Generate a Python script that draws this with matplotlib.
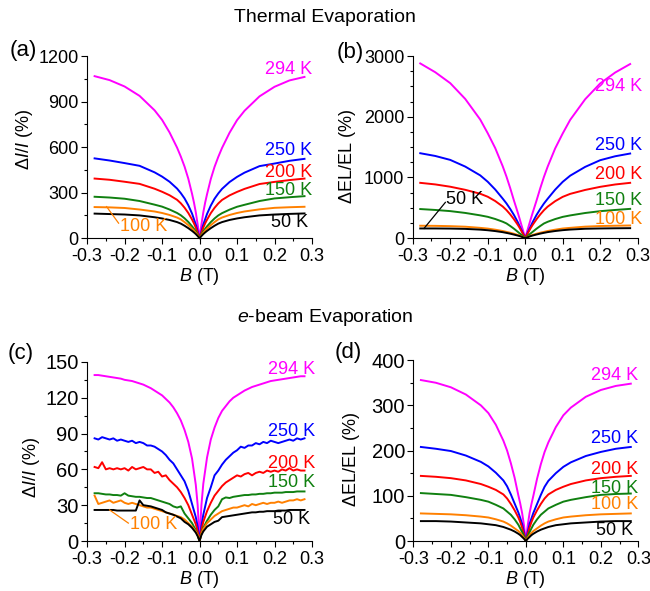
import matplotlib
matplotlib.use('Agg')
import matplotlib.pyplot as plt
from matplotlib.ticker import MultipleLocator, FuncFormatter

plt.rcParams['font.family'] = ['Liberation Sans', 'DejaVu Sans']
plt.rcParams['mathtext.fontset'] = 'custom'
plt.rcParams['mathtext.it'] = 'Liberation Sans:italic'
plt.rcParams['mathtext.rm'] = 'Liberation Sans'

temps = ['294 K', '250 K', '200 K', '150 K', '100 K', '50 K']
colors = ['#ff00ff', '#0000ff', '#ff0000', '#108010', '#ff8000', '#000000']

# field grid for the smooth sweeps (a), (b), (d)
B_smooth = [-0.28, -0.24, -0.2, -0.16, -0.12, -0.1, -0.08, -0.06, -0.05, -0.04, -0.03,
            -0.02, -0.015, -0.01, -0.005, 0.0, 0.005, 0.01, 0.015, 0.02, 0.03, 0.04,
            0.05, 0.06, 0.08, 0.1, 0.12, 0.16, 0.2, 0.24, 0.28]

# (a) thermal evaporation, dI/I
a_294 = [1068, 1042, 1000, 938, 843, 780, 697, 597, 538, 472, 392, 292, 236, 170, 90, 0,
         90, 170, 235, 290, 390, 470, 536, 595, 695, 778, 840, 935, 998, 1040, 1063]
a_250 = [526, 512, 495, 477, 434, 406, 372, 327, 297, 262, 217, 162, 126, 90, 45, 0,
         45, 90, 125, 160, 215, 260, 295, 325, 370, 404, 432, 475, 492, 510, 523]
a_200 = [393, 385, 372, 358, 326, 306, 283, 253, 230, 201, 166, 123, 98, 70, 35, 0,
         35, 70, 98, 122, 165, 200, 229, 252, 282, 305, 325, 357, 371, 383, 393]
a_150 = [273, 268, 260, 245, 221, 208, 189, 166, 151, 131, 107, 78, 62, 45, 23, 0,
         23, 45, 62, 78, 106, 130, 150, 165, 188, 207, 220, 245, 262, 270, 277]
a_100 = [205, 203, 199, 189, 176, 166, 153, 136, 124, 106, 86, 63, 50, 35, 18, 0,
         18, 35, 50, 63, 86, 106, 124, 136, 153, 166, 176, 190, 200, 204, 207]
a_50 = [162, 159, 156, 150, 138, 130, 120, 106, 96, 82, 66, 48, 38, 27, 14, 0,
        14, 27, 38, 48, 66, 82, 96, 106, 120, 130, 138, 150, 156, 160, 163]

# (b) thermal evaporation, dEL/EL
b_294 = [2880, 2735, 2555, 2295, 1955, 1730, 1485, 1185, 1015, 825, 620, 425, 322, 216, 110, 0,
         110, 215, 320, 420, 615, 820, 1010, 1180, 1480, 1725, 1950, 2290, 2550, 2730, 2870]
b_250 = [1400, 1355, 1290, 1180, 1035, 930, 802, 652, 573, 482, 382, 266, 200, 135, 70, 0,
         70, 135, 200, 265, 380, 480, 571, 650, 800, 928, 1030, 1175, 1285, 1350, 1395]
b_200 = [912, 886, 848, 797, 732, 683, 612, 522, 463, 392, 312, 222, 172, 116, 60, 0,
         60, 115, 170, 220, 310, 390, 461, 520, 610, 681, 730, 795, 846, 885, 912]
b_150 = [480, 465, 446, 416, 376, 352, 316, 271, 243, 201, 156, 106, 80, 55, 28, 0,
         28, 55, 80, 105, 155, 200, 242, 270, 315, 351, 375, 415, 445, 465, 483]
b_100 = [205, 203, 198, 189, 170, 158, 140, 118, 104, 90, 73, 53, 42, 30, 15, 0,
         15, 30, 42, 53, 73, 90, 104, 118, 140, 159, 170, 190, 200, 205, 209]
b_50 = [160, 160, 158, 153, 141, 131, 117, 99, 87, 74, 59, 43, 35, 24, 12, 0,
        12, 24, 35, 44, 60, 75, 88, 100, 118, 132, 142, 155, 160, 163, 165]

# (d) e-beam evaporation, dEL/EL
d_294 = [356, 350, 340, 324, 300, 283, 257, 222, 200, 172, 140, 101, 83, 62, 35, 0,
         35, 62, 82, 100, 138, 170, 197, 218, 252, 278, 295, 319, 334, 343, 348]
d_250 = [208, 204, 199, 189, 175, 165, 151, 134, 121, 103, 83, 63, 51, 38, 20, 0,
         20, 38, 50, 62, 82, 102, 120, 133, 150, 164, 174, 188, 197, 204, 208]
d_200 = [144, 142, 139, 134, 126, 120, 113, 103, 94, 82, 68, 52, 42, 30, 15, 0,
         15, 30, 42, 52, 68, 82, 94, 103, 113, 120, 126, 134, 139, 142, 144]
d_150 = [106, 104, 102, 97, 91, 87, 80, 72, 65, 58, 48, 36, 28, 20, 11, 0,
         11, 20, 28, 36, 48, 58, 65, 72, 80, 87, 91, 97, 102, 104, 105]
d_100 = [61, 60, 59, 57, 54, 52, 48, 43, 39, 34, 28, 22, 18, 13, 7, 0,
         7, 13, 18, 22, 28, 34, 39, 43, 48, 52, 54, 57, 59, 60, 61]
d_50 = [44, 44, 43, 41, 39, 37, 35, 31, 28, 25, 21, 16, 13, 9, 5, 0,
        5, 9, 13, 16, 21, 25, 28, 31, 35, 37, 39, 41, 43, 44, 44]

# (c) e-beam evaporation, dI/I (noisy sweeps, finer grid)
B_fine = [-0.28, -0.27, -0.26, -0.25, -0.24, -0.23, -0.22, -0.21, -0.2, -0.19, -0.18, -0.17,
          -0.16, -0.15, -0.14, -0.13, -0.12, -0.11, -0.1, -0.09, -0.08, -0.07, -0.06, -0.05,
          -0.04, -0.03, -0.02, -0.01, -0.005, 0.0, 0.005, 0.01, 0.02, 0.03, 0.04, 0.05,
          0.06, 0.07, 0.08, 0.09, 0.1, 0.11, 0.12, 0.13, 0.14, 0.15, 0.16, 0.17,
          0.18, 0.19, 0.2, 0.21, 0.22, 0.23, 0.24, 0.25, 0.26, 0.27, 0.28]
c_294 = [139, 139, 138.5, 138, 137.5, 137, 136.5, 136, 135, 134.5, 134, 133,
         132, 131, 129.5, 128, 126, 124, 122, 119, 116, 112, 107, 101,
         93, 83, 69, 47, 30, 0, 30, 48, 70, 85, 95, 103,
         109, 113, 117, 120, 122, 124, 126, 127.5, 129, 130, 131, 132,
         133, 134, 134.5, 135, 135.5, 136, 136.5, 137, 137.5, 138, 138]
c_250 = [86, 85, 87, 86, 85, 86, 84, 85, 84, 83, 84, 82,
         83, 82, 80, 80, 79, 77, 75, 72, 68, 65, 60, 55,
         50, 42, 31, 20, 12, 0, 13, 22, 36, 45, 55, 59,
         64, 68, 71, 74, 76, 79, 78, 80, 80, 82, 81, 83,
         82, 84, 83, 82, 83, 84, 85, 84, 86, 85, 86]
c_200 = [62, 61, 66, 60, 61, 60, 61, 60, 61, 59, 62, 60,
         61, 62, 60, 60, 57, 58, 54, 55, 51, 48, 45, 41,
         36, 30, 22, 14, 8, 0, 9, 16, 25, 32, 38, 42,
         46, 49, 51, 53, 55, 54, 56, 57, 55, 57, 58, 57,
         59, 58, 59, 58, 60, 59, 61, 59, 60, 59, 59]
c_150 = [40, 40, 39.5, 39, 39, 38.5, 38.5, 38, 40, 38, 37.5, 37,
         37, 36.5, 36, 36, 35, 34, 33, 32, 31, 29, 28, 29,
         23, 19, 15, 9, 5, 0, 6, 11, 17, 22, 26, 29,
         35, 36.5, 36, 37, 37.5, 38, 38.5, 38.5, 39, 39, 39.5, 39.5,
         40, 40, 40.5, 40.5, 40.5, 41, 41, 41, 41.5, 41.5, 41.5]
c_100 = [38, 31, 32, 33, 34, 32, 33, 34, 32, 31, 32, 31,
         30, 29, 28, 28, 27, 26, 25, 24, 23, 22, 21, 20,
         18, 15, 12, 8, 5, 0, 6, 10, 15, 18, 21, 23,
         25, 26, 27, 28, 28, 29, 30, 29, 31, 30, 31, 32,
         31, 32, 32, 33, 32, 33, 34, 34, 35, 34, 35]
c_50 = [26, 26, 26, 26, 26, 26, 25.5, 25.5, 25.5, 25.5, 25.5, 25.5,
        34, 30, 29.5, 29, 28, 27, 26, 24, 23, 22, 20.5, 19,
        16, 14, 11, 7, 4, 0, 5, 8, 12, 14, 16, 17,
        20, 20.5, 21, 21.5, 22, 22.5, 23, 23.5, 24, 24, 24.5, 24.5,
        25, 25, 25, 25.5, 25.5, 25.5, 26, 26, 26, 26, 26]

tick_fs = 13
label_fs = 13
tag_fs = 13


def style_axes(ax, ymax, ystep, ytick_fs):
    ax.set_xlim(-0.3, 0.3)
    ax.set_ylim(0, ymax)
    ax.spines['top'].set_visible(False)
    ax.spines['right'].set_visible(False)
    ax.xaxis.set_major_locator(MultipleLocator(0.1))
    ax.xaxis.set_minor_locator(MultipleLocator(0.05))
    ax.yaxis.set_major_locator(MultipleLocator(ystep))
    ax.yaxis.set_minor_locator(MultipleLocator(ystep / 2))
    ax.tick_params(which='both', direction='out')
    ax.tick_params(which='major', length=4, width=0.8)
    ax.tick_params(which='minor', length=2, width=0.8)
    ax.tick_params(axis='x', labelsize=tick_fs, pad=3)
    ax.tick_params(axis='y', labelsize=ytick_fs, pad=2)
    ax.xaxis.set_major_formatter(FuncFormatter(lambda v, p: '0.0' if abs(v) < 1e-9 else '%.1f' % v))
    ax.set_xlabel('$B$ (T)', fontsize=label_fs, labelpad=1)


def draw_curves(ax, B, series):
    for y, c in zip(series, colors):
        ax.plot(B, y, color=c, lw=1.4, clip_on=False)


def tag(ax, x, y, text, color, ha='right'):
    ax.text(x, y, text, color=color, fontsize=tag_fs, ha=ha, va='center', clip_on=False)


fig = plt.figure(figsize=(6.5, 5.91), dpi=100)

ax_a = fig.add_axes([0.134, 0.597, 0.346, 0.308])
ax_b = fig.add_axes([0.635, 0.597, 0.346, 0.308])
ax_c = fig.add_axes([0.134, 0.0846, 0.346, 0.303])
ax_d = fig.add_axes([0.636, 0.0846, 0.346, 0.306])

# (a)
draw_curves(ax_a, B_smooth, [a_294, a_250, a_200, a_150, a_100, a_50])
style_axes(ax_a, 1200, 300, tick_fs)
ax_a.set_ylabel('$\\Delta I/I$ (%)', fontsize=label_fs)
ax_a.yaxis.set_label_coords(-0.23, 0.54)
tag(ax_a, 0.3, 1112, '294 K', colors[0])
tag(ax_a, 0.3, 577, '250 K', colors[1])
tag(ax_a, 0.3, 434, '200 K', colors[2])
tag(ax_a, 0.3, 311, '150 K', colors[3])
tag(ax_a, 0.29, 103, '50 K', colors[5])
tag(ax_a, -0.212, 77, '100 K', colors[4], ha='left')
ax_a.plot([-0.248, -0.216], [208, 99], color=colors[4], lw=0.9)

# (b)
draw_curves(ax_b, B_smooth, [b_294, b_250, b_200, b_150, b_100, b_50])
style_axes(ax_b, 3000, 1000, tick_fs)
ax_b.yaxis.set_minor_locator(MultipleLocator(250))
ax_b.set_ylabel('$\\Delta$EL/EL (%)', fontsize=label_fs)
ax_b.yaxis.set_label_coords(-0.245, 0.45)
tag(ax_b, 0.313, 2496, '294 K', colors[0])
tag(ax_b, 0.313, 1520, '250 K', colors[1])
tag(ax_b, 0.313, 1042, '200 K', colors[2])
tag(ax_b, 0.313, 620, '150 K', colors[3])
tag(ax_b, 0.313, 302, '100 K', colors[4])
tag(ax_b, -0.212, 640, '50 K', colors[5], ha='left')
ax_b.plot([-0.213, -0.27], [590, 160], color='black', lw=0.9)

# (c)
draw_curves(ax_c, B_fine, [c_294, c_250, c_200, c_150, c_100, c_50])
style_axes(ax_c, 150, 30, 14.5)
ax_c.set_ylabel('$\\Delta I/I$ (%)', fontsize=label_fs)
ax_c.yaxis.set_label_coords(-0.2, 0.41)
tag(ax_c, 0.309, 144, '294 K', colors[0])
tag(ax_c, 0.309, 92, '250 K', colors[1])
tag(ax_c, 0.309, 65, '200 K', colors[2])
tag(ax_c, 0.309, 49, '150 K', colors[3])
tag(ax_c, 0.294, 18, '50 K', colors[5])
tag(ax_c, -0.186, 13.5, '100 K', colors[4], ha='left')
ax_c.plot([-0.24, -0.19], [26, 15], color=colors[4], lw=0.9)

# (d)
draw_curves(ax_d, B_smooth, [d_294, d_250, d_200, d_150, d_100, d_50])
style_axes(ax_d, 400, 100, 14.5)
ax_d.set_ylabel('$\\Delta$EL/EL (%)', fontsize=label_fs)
ax_d.yaxis.set_label_coords(-0.23, 0.45)
tag(ax_d, 0.3, 367, '294 K', colors[0])
tag(ax_d, 0.3, 227, '250 K', colors[1])
tag(ax_d, 0.3, 159, '200 K', colors[2])
tag(ax_d, 0.3, 116, '150 K', colors[3])
tag(ax_d, 0.3, 81, '100 K', colors[4])
tag(ax_d, 0.287, 24, '50 K', colors[5])

# panel letters and group titles
for x, y, s in [(0.015, 0.914, '(a)'), (0.518, 0.912, '(b)'),
                (0.012, 0.402, '(c)'), (0.515, 0.404, '(d)')]:
    fig.text(x, y, s, fontsize=16, ha='left', va='center')
fig.text(0.5, 0.97, 'Thermal Evaporation', fontsize=14, ha='center', va='center')
fig.text(0.5, 0.462, '$e$-beam Evaporation', fontsize=14, ha='center', va='center')

fig.savefig('out.png', dpi=100)
